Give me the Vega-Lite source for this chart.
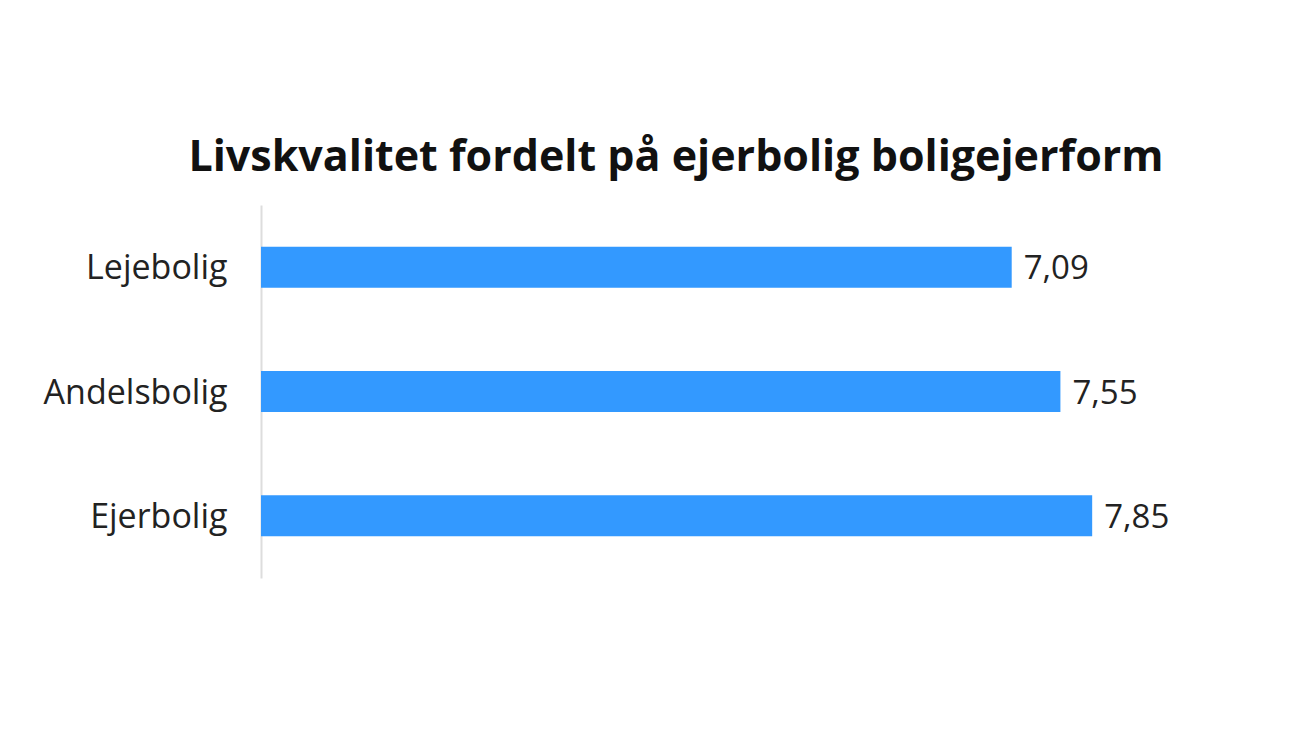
{
  "$schema": "https://vega.github.io/schema/vega-lite/v6.json",
  "autosize": {"type": "none"},
  "padding": {"left": 261, "top": 205, "right": 139, "bottom": 154},
  "width": 900,
  "height": 373,
  "background": "white",
  "title": {
    "text": "Livskvalitet fordelt på ejerbolig boligejerform",
    "font": "Open Sans",
    "fontSize": 43,
    "fontWeight": "bold",
    "color": "#111111",
    "anchor": "middle",
    "dx": -35,
    "offset": 25
  },
  "config": {
    "view": {"stroke": null},
    "locale": {"number": {"decimal": ",", "thousands": ".", "grouping": [3], "currency": ["", " kr"]}}
  },
  "data": {
    "values": [
      {"bolig": "Lejebolig", "score": 7.09},
      {"bolig": "Andelsbolig", "score": 7.55},
      {"bolig": "Ejerbolig", "score": 7.85}
    ]
  },
  "encoding": {
    "y": {
      "field": "bolig",
      "type": "nominal",
      "sort": null,
      "scale": {"paddingInner": 0.67, "paddingOuter": 0.335},
      "axis": {
        "title": null,
        "ticks": false,
        "domainColor": "#dddddd",
        "domainWidth": 2,
        "labelFont": "Open Sans",
        "labelFontSize": 34,
        "labelColor": "#222222",
        "labelPadding": 34,
        "labelLimit": 400,
        "labelOffset": 2
      }
    },
    "x": {
      "field": "score",
      "type": "quantitative",
      "scale": {"domain": [0, 8.5]},
      "axis": null
    }
  },
  "layer": [
    {"mark": {"type": "bar", "color": "#3399ff"}},
    {
      "mark": {"type": "text", "align": "left", "baseline": "middle", "dx": 12, "dy": 2, "font": "Open Sans", "fontSize": 33, "color": "#222222"},
      "encoding": {"text": {"field": "score", "type": "quantitative", "format": ".2f"}}
    }
  ]
}
